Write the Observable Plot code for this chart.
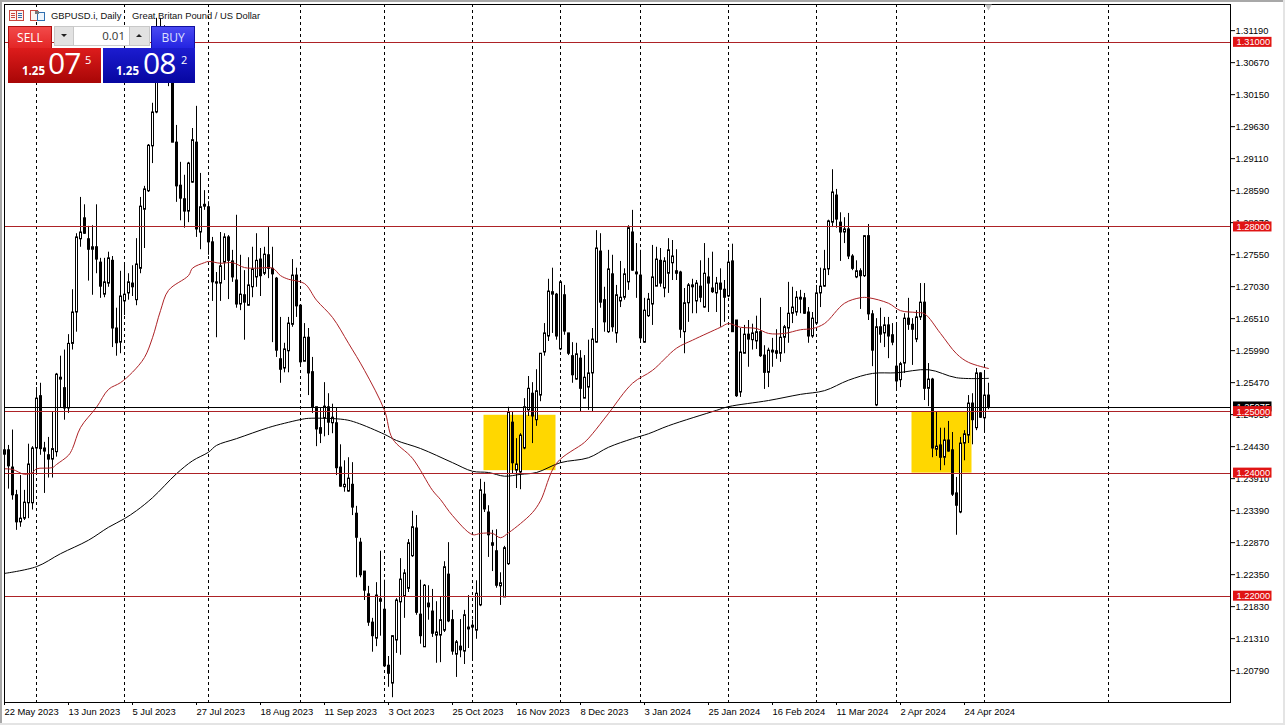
<!DOCTYPE html>
<html>
<head>
<meta charset="utf-8">
<script src="https://cdn.jsdelivr.net/npm/d3@7"></script>
<script src="https://cdn.jsdelivr.net/npm/@observablehq/plot@0.6"></script>
<style>
html,body{margin:0;padding:0;background:#fff;width:1285px;height:725px;overflow:hidden;font-family:"Liberation Sans",Arial,sans-serif}
#chart{position:absolute;left:0;top:0}
.abs{position:absolute;box-sizing:border-box}
</style>
</head>
<body>
<div id="chart"></div>
<div class="abs" style="left:0;top:0;width:1285px;height:2px;background:#a8a8a8"></div>
<div class="abs" style="left:0;top:0;width:2px;height:725px;background:#a8a8a8"></div>
<div class="abs" style="left:1283px;top:0;width:2px;height:725px;background:#e4e4e4"></div>
<div class="abs" style="left:0;top:723px;width:1285px;height:2px;background:#e4e4e4"></div>

<svg class="abs" style="left:9px;top:10px" width="38" height="13" viewBox="0 0 38 13">
  <rect x="0.5" y="0.5" width="14" height="10" fill="#fdf3f0" stroke="#c8473f"/>
  <path d="M7.5 1V10" stroke="#c8473f"/>
  <path d="M2 3.5H6M2 5.5H6M2 7.5H6" stroke="#c8473f"/><path d="M9 3.5H13M9 5.5H13M9 7.5H13" stroke="#2f6fb0"/>
  <rect x="21.5" y="0.5" width="7" height="10" fill="#fdf3f0" stroke="#c8473f"/>
  <rect x="28.5" y="2.5" width="7" height="8" fill="#eef5fc" stroke="#2f6fb0"/>
  <rect x="26" y="1" width="4" height="3" fill="#777"/>
</svg>
<div class="abs" style="left:51px;top:9.5px;font:9.4px 'Liberation Sans';color:#111;white-space:pre">GBPUSD.i, Daily</div>
<div class="abs" style="left:132px;top:9.5px;font:9.4px 'Liberation Sans';color:#111;white-space:pre">Great Britan Pound / US Dollar</div>

<div class="abs" style="left:8px;top:26px;width:44px;height:24px;background:linear-gradient(#f24a4a,#e32424);border:1px solid #b01010;color:#fff;font:12px 'Open Sans';text-align:center;line-height:21px">SELL</div>
<div class="abs" style="left:12px;top:47.5px;width:36px;height:1px;background:#f3a0a0"></div>
<div class="abs" style="left:54px;top:26px;width:96px;height:20px;background:#fff;border:1px solid #ccc"></div>
<div class="abs" style="left:54px;top:26px;width:20px;height:20px;background:#e2e2e2;border:1px solid #c8c8c8"></div>
<div class="abs" style="left:129px;top:26px;width:21px;height:20px;background:#e2e2e2;border:1px solid #c8c8c8"></div>
<svg class="abs" style="left:54px;top:26px" width="96" height="20"><path d="M7 8h6l-3 3z" fill="#222"/><path d="M82 11h6l-3-3z" fill="#222"/></svg>
<div class="abs" style="left:74px;top:26px;width:51px;height:20px;font:11.5px 'Open Sans';color:#333;text-align:right;line-height:20px">0.01</div>
<div class="abs" style="left:151px;top:26px;width:44px;height:24px;background:linear-gradient(#4a4af2,#2222e0);border:1px solid #1010a0;color:#dfe0ff;font:12px 'Open Sans';text-align:center;line-height:21px">BUY</div>
<div class="abs" style="left:155px;top:47.5px;width:36px;height:1px;background:#a0a0f3"></div>
<div class="abs" style="left:8px;top:48px;width:93px;height:35px;background:linear-gradient(#dd1c1c,#a80606);color:#fff">
  <span class="abs" style="left:14px;top:15px;font:bold 11.5px 'Open Sans'">1.25</span>
  <span class="abs" style="left:40px;top:-3px;font:30px/36px 'Open Sans';letter-spacing:-1px">07</span>
  <span class="abs" style="left:77px;top:4px;font:11px 'Open Sans'">5</span>
</div>
<div class="abs" style="left:103px;top:48px;width:92px;height:35px;background:linear-gradient(#1c1cd0,#0606a0);color:#fff">
  <span class="abs" style="left:13px;top:15px;font:bold 11.5px 'Open Sans'">1.25</span>
  <span class="abs" style="left:40px;top:-3px;font:30px/36px 'Open Sans';letter-spacing:-1px">08</span>
  <span class="abs" style="left:78px;top:4px;font:11px 'Open Sans'">2</span>
</div>

<script>
const opens = [
1.2437,1.2437,1.2409,1.2364,1.2320,1.2326,1.2351,1.2351,1.2440,1.2525,
1.2440,1.2429,1.2422,1.2434,1.2555,1.2538,1.2505,1.2610,1.2661,1.2780,
1.2814,1.2780,1.2763,1.2767,1.2742,1.2690,1.2708,1.2745,1.2635,1.2612,
1.2679,1.2692,1.2708,1.2681,1.2732,1.2828,1.2858,1.2931,1.2986,1.3071,
1.3111,1.3087,1.3071,1.2937,1.2867,1.2845,1.2825,1.2872,1.2937,1.2791,
1.2836,1.2832,1.2775,1.2710,1.2708,1.2742,1.2783,1.2744,1.2713,1.2674,
1.2689,1.2672,1.2702,1.2718,1.2747,1.2724,1.2754,1.2732,1.2716,1.2585,
1.2570,1.2598,1.2641,1.2721,1.2672,1.2581,1.2620,1.2564,1.2507,1.2473,
1.2489,1.2507,1.2481,1.2481,1.2409,1.2377,1.2370,1.2381,1.2334,1.2287,
1.2240,1.2203,1.2157,1.2131,1.2195,1.2178,1.2087,1.2058,1.2128,1.2190,
1.2199,1.2212,1.2265,1.2310,1.2170,1.2117,1.2188,1.2175,1.2136,1.2136,
1.2144,1.2235,1.2161,1.2105,1.2118,1.2110,1.2149,1.2152,1.2144,1.2185,
1.2365,1.2336,1.2286,1.2273,1.2216,1.2198,1.2252,1.2482,1.2404,1.2401,
1.2440,1.2502,1.2529,1.2486,1.2526,1.2596,1.2622,1.2690,1.2690,1.2601,
1.2689,1.2627,1.2590,1.2552,1.2586,1.2521,1.2539,1.2562,1.2612,1.2760,
1.2681,1.2629,1.2723,1.2627,1.2679,1.2685,1.2710,1.2791,1.2726,1.2721,
1.2612,1.2655,1.2674,1.2703,1.2745,1.2700,1.2724,1.2741,1.2728,1.2726,
1.2629,1.2676,1.2705,1.2679,1.2703,1.2669,1.2718,1.2700,1.2692,1.2708,
1.2698,1.2687,1.2744,1.2648,1.2531,1.2594,1.2625,1.2616,1.2614,1.2629,
1.2591,1.2563,1.2599,1.2598,1.2594,1.2620,1.2635,1.2659,1.2661,1.2685,
1.2684,1.2661,1.2622,1.2643,1.2692,1.2703,1.2731,1.2807,1.2851,1.2807,
1.2791,1.2796,1.2752,1.2718,1.2728,1.2720,1.2785,1.2658,1.2510,1.2637,
1.2627,1.2640,1.2624,1.2573,1.2551,1.2578,1.2651,1.2641,1.2617,1.2653,
1.2677,1.2537,1.2552,1.2438,1.2445,1.2425,1.2453,1.2437,1.2367,1.2336,
1.2448,1.2461,1.2513,1.2473,1.2562,1.2489,1.2526];
const highs = [
1.2444,1.2445,1.2470,1.2372,1.2396,1.2372,1.2447,1.2443,1.2539,1.2546,
1.2450,1.2458,1.2499,1.2562,1.2590,1.2600,1.2625,1.2698,1.2789,1.2848,
1.2836,1.2801,1.2802,1.2836,1.2749,1.2749,1.2759,1.2752,1.2668,1.2728,
1.2741,1.2724,1.2737,1.2781,1.2848,1.2866,1.2934,1.3001,1.3139,1.3139,
1.3127,1.3103,1.3095,1.2965,1.2905,1.2884,1.2905,1.2960,1.2996,1.2887,
1.2859,1.2841,1.2783,1.2726,1.2791,1.2789,1.2786,1.2762,1.2819,1.2754,
1.2729,1.2750,1.2767,1.2789,1.2765,1.2767,1.2799,1.2767,1.2718,1.2653,
1.2611,1.2653,1.2747,1.2733,1.2672,1.2643,1.2635,1.2588,1.2507,1.2505,
1.2547,1.2529,1.2512,1.2505,1.2446,1.2420,1.2425,1.2417,1.2346,1.2294,
1.2240,1.2216,1.2164,1.2222,1.2273,1.2226,1.2102,1.2136,1.2196,1.2261,
1.2243,1.2292,1.2338,1.2331,1.2226,1.2219,1.2217,1.2211,1.2191,1.2198,
1.2256,1.2287,1.2177,1.2128,1.2162,1.2177,1.2201,1.2161,1.2225,1.2390,
1.2385,1.2347,1.2307,1.2308,1.2238,1.2281,1.2507,1.2499,1.2456,1.2464,
1.2521,1.2557,1.2547,1.2568,1.2594,1.2643,1.2715,1.2733,1.2692,1.2713,
1.2705,1.2627,1.2612,1.2611,1.2599,1.2591,1.2616,1.2635,1.2794,1.2789,
1.2702,1.2762,1.2754,1.2705,1.2744,1.2732,1.2802,1.2827,1.2773,1.2762,
1.2684,1.2692,1.2770,1.2767,1.2765,1.2750,1.2781,1.2778,1.2763,1.2728,
1.2700,1.2708,1.2715,1.2713,1.2745,1.2773,1.2749,1.2759,1.2718,1.2732,
1.2713,1.2757,1.2772,1.2648,1.2635,1.2640,1.2648,1.2642,1.2655,1.2684,
1.2607,1.2603,1.2619,1.2633,1.2669,1.2640,1.2710,1.2702,1.2695,1.2697,
1.2692,1.2669,1.2661,1.2705,1.2733,1.2762,1.2811,1.2893,1.2861,1.2823,
1.2815,1.2822,1.2755,1.2745,1.2732,1.2786,1.2804,1.2664,1.2651,1.2668,
1.2653,1.2653,1.2643,1.2643,1.2580,1.2659,1.2684,1.2651,1.2664,1.2708,
1.2708,1.2578,1.2554,1.2499,1.2473,1.2473,1.2484,1.2466,1.2393,1.2458,
1.2469,1.2526,1.2529,1.2570,1.2563,1.2562,1.2546];
const lows = [
1.2424,1.2374,1.2356,1.2307,1.2312,1.2323,1.2326,1.2340,1.2400,1.2429,
1.2367,1.2392,1.2392,1.2426,1.2505,1.2486,1.2497,1.2600,1.2629,1.2767,
1.2788,1.2712,1.2689,1.2724,1.2684,1.2685,1.2702,1.2604,1.2590,1.2594,
1.2656,1.2681,1.2687,1.2672,1.2724,1.2765,1.2856,1.2903,1.2984,1.3054,
1.3071,1.3028,1.2937,1.2840,1.2810,1.2798,1.2807,1.2871,1.2783,1.2763,
1.2827,1.2754,1.2679,1.2620,1.2679,1.2713,1.2682,1.2710,1.2668,1.2664,
1.2616,1.2671,1.2685,1.2702,1.2687,1.2721,1.2716,1.2612,1.2588,1.2546,
1.2563,1.2563,1.2637,1.2653,1.2573,1.2581,1.2526,1.2497,1.2443,1.2448,
1.2459,1.2461,1.2464,1.2396,1.2377,1.2369,1.2369,1.2331,1.2230,1.2230,
1.2193,1.2151,1.2109,1.2118,1.2135,1.2084,1.2052,1.2035,1.2107,1.2104,
1.2164,1.2206,1.2263,1.2169,1.2122,1.2117,1.2161,1.2133,1.2091,1.2092,
1.2141,1.2157,1.2104,1.2068,1.2100,1.2089,1.2115,1.2094,1.2130,1.2183,
1.2336,1.2263,1.2240,1.2213,1.2185,1.2198,1.2250,1.2399,1.2375,1.2373,
1.2438,1.2492,1.2448,1.2476,1.2516,1.2590,1.2614,1.2627,1.2616,1.2599,
1.2624,1.2591,1.2546,1.2551,1.2500,1.2521,1.2502,1.2500,1.2611,1.2668,
1.2629,1.2627,1.2629,1.2611,1.2669,1.2681,1.2697,1.2728,1.2684,1.2611,
1.2611,1.2653,1.2640,1.2703,1.2702,1.2685,1.2692,1.2713,1.2713,1.2619,
1.2594,1.2645,1.2659,1.2659,1.2677,1.2668,1.2661,1.2692,1.2661,1.2637,
1.2645,1.2685,1.2629,1.2523,1.2523,1.2594,1.2572,1.2600,1.2601,1.2588,
1.2536,1.2539,1.2572,1.2585,1.2580,1.2594,1.2611,1.2643,1.2655,1.2659,
1.2658,1.2611,1.2619,1.2643,1.2669,1.2702,1.2721,1.2799,1.2798,1.2744,
1.2773,1.2747,1.2729,1.2716,1.2666,1.2718,1.2648,1.2573,1.2508,1.2611,
1.2604,1.2586,1.2607,1.2533,1.2539,1.2562,1.2632,1.2575,1.2612,1.2648,
1.2518,1.2508,1.2425,1.2427,1.2404,1.2412,1.2434,1.2362,1.2299,1.2334,
1.2420,1.2448,1.2446,1.2469,1.2489,1.2466,1.2503];
const closes = [
1.2430,1.2411,1.2364,1.2320,1.2326,1.2352,1.2414,1.2440,1.2521,1.2439,
1.2435,1.2422,1.2439,1.2560,1.2552,1.2505,1.2610,1.2661,1.2783,1.2791,
1.2789,1.2763,1.2767,1.2747,1.2703,1.2710,1.2749,1.2635,1.2611,1.2687,
1.2690,1.2710,1.2702,1.2739,1.2833,1.2861,1.2932,1.2986,1.3071,1.3111,
1.3087,1.3054,1.2937,1.2866,1.2846,1.2825,1.2903,1.2941,1.2796,1.2832,
1.2833,1.2775,1.2710,1.2708,1.2736,1.2783,1.2745,1.2718,1.2674,1.2690,
1.2677,1.2705,1.2731,1.2745,1.2720,1.2755,1.2732,1.2723,1.2599,1.2568,
1.2601,1.2643,1.2721,1.2671,1.2580,1.2620,1.2562,1.2507,1.2471,1.2464,
1.2508,1.2482,1.2490,1.2408,1.2378,1.2381,1.2391,1.2344,1.2295,1.2234,
1.2209,1.2157,1.2135,1.2201,1.2191,1.2086,1.2074,1.2135,1.2193,1.2227,
1.2237,1.2286,1.2312,1.2173,1.2135,1.2217,1.2182,1.2139,1.2141,1.2161,
1.2247,1.2159,1.2110,1.2125,1.2112,1.2169,1.2146,1.2149,1.2204,1.2372,
1.2341,1.2299,1.2282,1.2217,1.2221,1.2278,1.2499,1.2416,1.2414,1.2461,
1.2507,1.2537,1.2492,1.2533,1.2594,1.2627,1.2695,1.2694,1.2622,1.2710,
1.2630,1.2594,1.2559,1.2593,1.2537,1.2555,1.2562,1.2617,1.2765,1.2677,
1.2645,1.2731,1.2637,1.2689,1.2685,1.2723,1.2798,1.2729,1.2723,1.2619,
1.2664,1.2682,1.2718,1.2747,1.2708,1.2744,1.2762,1.2752,1.2724,1.2633,
1.2676,1.2705,1.2702,1.2708,1.2685,1.2724,1.2708,1.2694,1.2708,1.2698,
1.2685,1.2742,1.2629,1.2525,1.2596,1.2625,1.2617,1.2627,1.2629,1.2590,
1.2563,1.2599,1.2596,1.2594,1.2620,1.2637,1.2659,1.2669,1.2685,1.2682,
1.2659,1.2622,1.2651,1.2692,1.2703,1.2731,1.2809,1.2856,1.2812,1.2791,
1.2796,1.2752,1.2732,1.2728,1.2720,1.2785,1.2658,1.2599,1.2637,1.2625,
1.2640,1.2622,1.2612,1.2549,1.2577,1.2651,1.2641,1.2633,1.2653,1.2677,
1.2537,1.2552,1.2440,1.2443,1.2425,1.2453,1.2435,1.2365,1.2347,1.2448,
1.2463,1.2513,1.2486,1.2562,1.2490,1.2526,1.25075];

const redMaBars = [0,2,5,7,8,12,13,16,17,19,23,26,29,32,35,37,39,41,46,47,50,51,54,57,60,63,67,69,71,75,78,82,86,90,95,97,102,107,109,112,117,119,122,124,126,129,132,134,138,145,147,151,157,162,168,172,179,181,184,188,191,195,199,202,205,210,214,216,221,224,228,230,234,238,241,246];
const redMaValues = [1.2407,1.2406,1.2398,1.2401,1.2407,1.2409,1.2414,1.2429,1.2440,1.2474,1.2507,1.2536,1.2547,1.2564,1.2588,1.2620,1.2664,1.2697,1.2721,1.2733,1.2742,1.2744,1.2741,1.2742,1.2734,1.2733,1.2733,1.2721,1.2715,1.2708,1.2681,1.2653,1.2611,1.2567,1.2502,1.2456,1.2424,1.2372,1.2357,1.2331,1.2300,1.2302,1.2302,1.2295,1.2303,1.2318,1.2336,1.2355,1.2416,1.2450,1.2464,1.2497,1.2546,1.2567,1.2603,1.2616,1.2637,1.2643,1.2637,1.2635,1.2627,1.2627,1.2633,1.2635,1.2643,1.2676,1.2685,1.2685,1.2676,1.2664,1.2661,1.2659,1.2627,1.2594,1.2580,1.2570];
const blackMaBars = [0,8,14,21,26,30,33,37,43,47,51,53,58,66,70,74,76,85,88,95,98,104,112,117,121,125,129,133,139,146,151,157,161,166,178,181,191,199,205,211,217,223,231,238,246];
const blackMaValues = [1.2237,1.2248,1.2269,1.2291,1.2312,1.2326,1.2339,1.2360,1.2399,1.2420,1.2434,1.2445,1.2456,1.2474,1.2481,1.2487,1.2489,1.2487,1.2482,1.2463,1.2453,1.2440,1.2417,1.2403,1.2401,1.2395,1.2398,1.2401,1.2417,1.2425,1.2442,1.2456,1.2464,1.2477,1.2502,1.2508,1.2518,1.2528,1.2534,1.2551,1.2562,1.2563,1.2568,1.2555,1.2554];

const levels = [1.31, 1.28, 1.25, 1.24, 1.22];
const bid = 1.25075;
const yTicks = [1.3119,1.3067,1.3015,1.2963,1.2911,1.2859,1.2807,1.2755,1.2703,1.2651,1.2599,1.2547,1.2495,1.2443,1.2391,1.2339,1.2287,1.2235,1.2183,1.2131,1.2079];
const dateTicks = [0,16,32,48,64,80,96,112,128,144,160,176,192,208,224,240];
const dateLabels = ["22 May 2023","13 Jun 2023","5 Jul 2023","27 Jul 2023","18 Aug 2023","11 Sep 2023","3 Oct 2023","25 Oct 2023","16 Nov 2023","8 Dec 2023","3 Jan 2024","25 Jan 2024","16 Feb 2024","11 Mar 2024","2 Apr 2024","24 Apr 2024"];
const gridBars = [8,30,51,74,95,117,139,159,181,203,223,245,276];
const zoneStart = [119.875, 226.875];
const zoneEnd = [137.875, 241.875];
const zoneTop = [1.2494, 1.25];
const zoneBottom = [1.2404, 1.24];

const bars = opens.map((o, i) => ({i, o, h: highs[i], l: lows[i], c: closes[i], up: closes[i] >= o}));
const zones = zoneStart.map((s, i) => ({s, e: zoneEnd[i], t: zoneTop[i], b: zoneBottom[i]}));
const red = redMaBars.map((b, i) => ({b, v: redMaValues[i]}));
const blk = blackMaBars.map((b, i) => ({b, v: blackMaValues[i]}));
const fmt = d3.format(".5f");
const lineRed = "#ad2226";

const chart = Plot.plot({
  width: 1285, height: 725,
  marginTop: 4, marginBottom: 23, marginLeft: 4, marginRight: 55,
  style: {background: "#fff", fontFamily: "'Liberation Sans',Arial,sans-serif", overflow: "visible"},
  x: {domain: [0, 306.5], range: [4, 1230], axis: null},
  y: {domain: [1.202725, 1.31615], range: [702, 4], axis: null},
  marks: [
    Plot.rect(zones, {x1: "s", x2: "e", y1: "b", y2: "t", fill: "#ffd700"}),
    Plot.ruleX(gridBars, {stroke: "#000", strokeWidth: 1, strokeDasharray: "3,3"}),
    Plot.ruleX(bars, {x: "i", y1: "l", y2: "h", stroke: "#000", strokeWidth: 1}),
    Plot.rect(bars, {x1: d => d.i - 0.125, x2: d => d.i + 0.375, y1: "o", y2: "c", fill: d => d.up ? "#fff" : "#000", stroke: "#000", strokeWidth: 1}),
    Plot.line(blk, {x: "b", y: "v", stroke: "#000", strokeWidth: 1, curve: "catmull-rom"}),
    Plot.line(red, {x: "b", y: "v", stroke: lineRed, strokeWidth: 1, curve: "catmull-rom"}),
    Plot.ruleY([bid], {stroke: "#000", strokeWidth: 1, dy: 0.4, shapeRendering: "crispEdges"}),
    Plot.ruleY(levels, {stroke: lineRed, strokeWidth: 1, shapeRendering: "crispEdges"}),
    Plot.frame({stroke: "#000"}),
    Plot.axisX({anchor: "bottom", ticks: dateTicks, tickFormat: k => dateLabels[dateTicks.indexOf(k)], tickSize: 3, tickPadding: 3, textAnchor: "start", fontSize: 9.4, fill: "#000", label: null}),
    Plot.axisY({anchor: "right", ticks: yTicks, tickFormat: fmt, tickSize: 4, tickPadding: 1, fontSize: 9.3, fill: "#000", label: null}),
    Plot.rect([bid], {x1: 307.25, x2: 316.875, y1: d => d, y2: d => d, fill: "#000", insetTop: -5, insetBottom: -5}),
    Plot.text([bid], {x: 308.0, y: d => d, text: fmt, textAnchor: "start", fill: "#fff", fontSize: 9.3}),
    Plot.rect(levels, {x1: 307.25, x2: 316.875, y1: d => d, y2: d => d, fill: "#e01414", insetTop: -5, insetBottom: -5}),
    Plot.text(levels, {x: 308.0, y: d => d, text: fmt, textAnchor: "start", fill: "#fff", fontSize: 9.3}),
    Plot.dot([0], {x: () => 246, y: () => 1.31615, symbol: "triangle", r: 2.5, rotate: 180, fill: "#c4c4c4", dy: 2})
  ]
});
document.getElementById("chart").appendChild(chart);
</script>
</body>
</html>
